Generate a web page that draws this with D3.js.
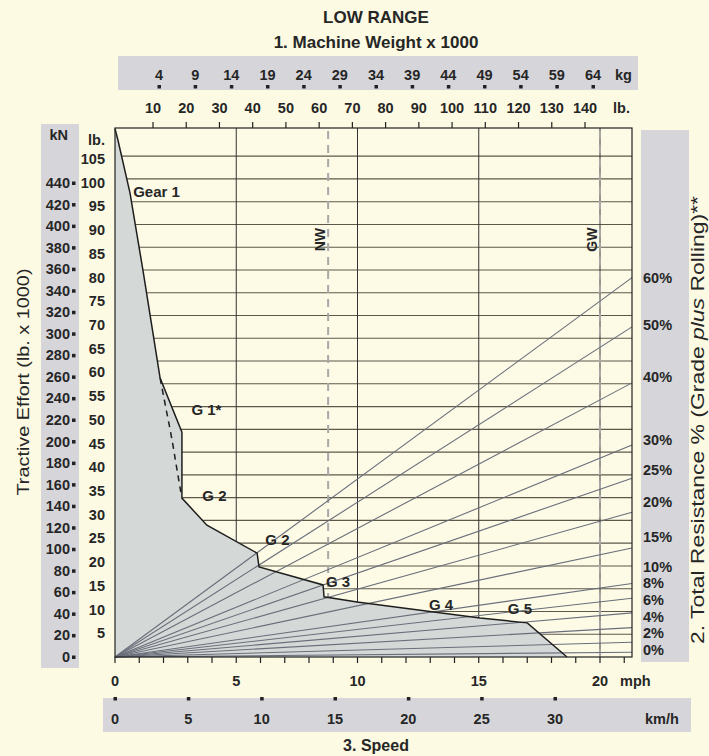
<!DOCTYPE html>
<html><head><meta charset="utf-8">
<script src="https://cdn.jsdelivr.net/npm/d3@7"></script>
<style>
body{margin:0;background:#fcfae2;}
svg{display:block}
text{font-family:"Liberation Sans Narrow","Arial Narrow","Liberation Sans",sans-serif;fill:#262626;}
</style></head><body>
<svg id="chart" width="709" height="756"></svg>
<script>
// ---- axis labels ----
const mphLabels = [0, 5, 10, 15, 20];
const mphTicks = [0,1,2,3,4,5,6,7,8,9,10,11,12,13,14,15,16,17,18,19,20,21];
const kmhLabels = [0, 5, 10, 15, 20, 25, 30];
const weightLb = [10,20,30,40,50,60,70,80,90,100,110,120,130,140];
const weightKg = [4,9,14,19,24,29,34,39,44,49,54,59,64];
const effortLb = [5,10,15,20,25,30,35,40,45,50,55,60,65,70,75,80,85,90,95,100,105];
const effortKn = [0,20,40,60,80,100,120,140,160,180,200,220,240,260,280,300,320,340,360,380,400,420,440];
const gridLines = [1,2,3,4,5,6,7,8,9,10,11,12,13,14,15,16,17,18,19,20,21,22];

// ---- total resistance lines: label, rimpull (lb x 1000) at right edge, label position ----
const resistLabels = ["60%","50%","40%","30%","25%","20%","15%","10%","8%","6%","4%","2%","0%"];
const resistEnd    = [80, 69.6, 57.8, 44.7, 37.7, 30.5, 23, 15.5, 12.4, 9.3, 6.2, 3.1, 1.0];
const resistLabelAt= [79.9, 70, 59, 45.8, 39.4, 32.7, 25.3, 19.0, 15.5, 12.0, 8.5, 5.0, 1.5];

// ---- rimpull envelope (mph, lb x 1000) ----
const rimSpeed  = [0, 0.12, 0.62, 1.15, 1.86, 2.76, 2.76, 3.79, 5.86, 5.94, 8.58, 8.62, 9.98, 15.05, 17.0, 18.64];
const rimPull   = [111.4, 109, 97.8, 81.6, 58.8, 47.4, 33.5, 27.8, 21.9, 19.0, 15.2, 12.7, 11.6, 8.2, 7.2, 0];
// alternative gear 1 curve (dashed)
const g1aSpeed  = [1.86, 2.06, 2.35, 2.56, 2.74];
const g1aPull   = [58.8, 53.5, 45.8, 39.4, 34.0];

// ---- gear labels ----
const gearNames = ["Gear 1", "G 1*", "G 2", "G 2", "G 3", "G 4", "G 5"];
const gearSpeed = [0.75, 3.15, 3.6, 6.2, 8.7, 12.95, 16.2];
const gearPull  = [96.9, 51.0, 32.8, 23.6, 14.8, 9.9, 9.1];

// ---- weight markers (lb x 1000) ----
const markerNames = ["NW", "GW"];
const markerWeight = [62.7, 144.5];

const svg = d3.select("#chart");

const x = d3.scaleLinear().domain([0, 20]).range([115, 600]);
const y = d3.scaleLinear().domain([0, 105]).range([657, 159]);
const xMax = x.invert(632), yMax = y.invert(128);
const wLb = d3.scaleLinear().domain([10, 140]).range([153, 585]);
const wKg = d3.scaleLinear().domain([4, 64]).range([159, 593]);
const kmh = d3.scaleLinear().domain([0, 30]).range([115, 555]);
const kN = d3.scaleLinear().domain([0, 440]).range([657, 183]);
const gridY = d3.scaleLinear().domain([0, 22]).range([y(0), y(105.6)]);

const band = "#d6d6da";
const font = 14.5;

// titles
svg.append("text").attr("x", 376).attr("y", 23).attr("text-anchor", "middle")
  .attr("font-size", 17).attr("font-weight", "bold").text("LOW RANGE");
svg.append("text").attr("x", 376).attr("y", 48).attr("text-anchor", "middle")
  .attr("font-size", 17).attr("font-weight", "bold").text("1. Machine Weight x 1000");

// bands
svg.append("rect").attr("x", 118).attr("y", 56).attr("width", 520).attr("height", 34).attr("fill", band);
svg.append("rect").attr("x", 41).attr("y", 124).attr("width", 38).attr("height", 544).attr("fill", band);
svg.append("rect").attr("x", 641).attr("y", 130).attr("width", 48).attr("height", 532).attr("fill", band);
svg.append("rect").attr("x", 103).attr("y", 698).attr("width", 588).attr("height", 34).attr("fill", band);

// plot background
svg.append("rect").attr("x", x(0)).attr("y", y(yMax)).attr("width", x(xMax) - x(0))
  .attr("height", y(0) - y(yMax)).attr("fill", "#fdfbe6");

// horizontal grid
svg.append("g").selectAll("line").data(gridLines).join("line")
  .attr("x1", x(0)).attr("x2", x(xMax)).attr("y1", d => gridY(d)).attr("y2", d => gridY(d))
  .attr("stroke", "#5e584a").attr("stroke-width", 1.1);

// vertical grid at 5, 10, 15, 20 mph
svg.append("g").selectAll("line").data([5, 10, 15, 20]).join("line")
  .attr("x1", d => x(d)).attr("x2", d => x(d)).attr("y1", y(0)).attr("y2", y(yMax))
  .attr("stroke", "#333").attr("stroke-width", 1);

// weight markers
svg.append("g").selectAll("line").data(markerWeight).join("line")
  .attr("x1", d => wLb(d)).attr("x2", d => wLb(d)).attr("y1", y(0)).attr("y2", y(yMax))
  .attr("stroke", "#a8a8a8").attr("stroke-width", 2).attr("stroke-dasharray", "8,6");
svg.append("g").selectAll("text").data(markerNames).join("text")
  .attr("transform", (d, i) => `translate(${wLb(markerWeight[i]) - 3},${y(88)}) rotate(-90)`)
  .attr("text-anchor", "middle").attr("font-size", 14).attr("font-weight", "bold").text(d => d);

// rimpull fill
const env = rimSpeed.map((s, i) => [s, rimPull[i]]);
const area = d3.area().x(d => x(d[0])).y0(y(0)).y1(d => y(d[1]));
svg.append("path").datum([[0, yMax], ...env]).attr("d", area).attr("fill", "#d4d8d6");

// resistance lines from origin to right edge
svg.append("g").selectAll("line").data(resistEnd).join("line")
  .attr("x1", x(0)).attr("y1", y(0)).attr("x2", x(xMax)).attr("y2", d => y(d))
  .attr("stroke", "#6a6e7a").attr("stroke-width", 1.1);

// envelope
const line = d3.line().x(d => x(d[0])).y(d => y(d[1]));
svg.append("path").datum(env).attr("d", line).attr("fill", "none")
  .attr("stroke", "#1e1e1e").attr("stroke-width", 1.5);
svg.append("path").datum(g1aSpeed.map((s, i) => [s, g1aPull[i]]))
  .attr("d", d3.line().curve(d3.curveMonotoneY).x(d => x(d[0])).y(d => y(d[1])))
  .attr("fill", "none").attr("stroke", "#1e1e1e").attr("stroke-width", 1.5).attr("stroke-dasharray", "6,5");

// gear labels
svg.append("g").selectAll("text").data(gearNames).join("text")
  .attr("x", (d, i) => x(gearSpeed[i])).attr("y", (d, i) => y(gearPull[i]))
  .attr("font-size", 15).attr("font-weight", "bold").text(d => d);

// frame
svg.append("rect").attr("x", x(0)).attr("y", y(yMax)).attr("width", x(xMax) - x(0))
  .attr("height", y(0) - y(yMax)).attr("fill", "none").attr("stroke", "#222").attr("stroke-width", 1.2);

// bottom mph axis
svg.append("g").selectAll("line").data(mphTicks).join("line")
  .attr("x1", d => x(d)).attr("x2", d => x(d)).attr("y1", y(0)).attr("y2", y(0) + 6)
  .attr("stroke", "#222").attr("stroke-width", 1.2);
svg.append("g").selectAll("text").data(mphLabels).join("text")
  .attr("x", d => x(d)).attr("y", 686).attr("text-anchor", "middle")
  .attr("font-size", font).attr("font-weight", "bold").text(d => d);
svg.append("text").attr("x", 620).attr("y", 686).attr("font-size", font).attr("font-weight", "bold").text("mph");

// km/h axis
svg.append("g").selectAll("rect").data(kmhLabels).join("rect")
  .attr("x", d => kmh(d) - 1.5).attr("y", 697).attr("width", 3.5).attr("height", 3.5).attr("fill", "#222");
svg.append("g").selectAll("text").data(kmhLabels).join("text")
  .attr("x", d => kmh(d)).attr("y", 724).attr("text-anchor", "middle")
  .attr("font-size", font).attr("font-weight", "bold").text(d => d);
svg.append("text").attr("x", 645).attr("y", 724).attr("font-size", font).attr("font-weight", "bold").text("km/h");
svg.append("text").attr("x", 376).attr("y", 751).attr("text-anchor", "middle")
  .attr("font-size", 16).attr("font-weight", "bold").text("3. Speed");

// top weight axes
svg.append("g").selectAll("line").data(weightLb).join("line")
  .attr("x1", d => wLb(d)).attr("x2", d => wLb(d)).attr("y1", y(yMax) - 6).attr("y2", y(yMax))
  .attr("stroke", "#222").attr("stroke-width", 1.2);
svg.append("g").selectAll("text").data(weightLb).join("text")
  .attr("x", d => wLb(d)).attr("y", 113).attr("text-anchor", "middle")
  .attr("font-size", font).attr("font-weight", "bold").text(d => d);
svg.append("text").attr("x", 613).attr("y", 113).attr("font-size", font).attr("font-weight", "bold").text("lb.");
svg.append("g").selectAll("text").data(weightKg).join("text")
  .attr("x", d => wKg(d)).attr("y", 80).attr("text-anchor", "middle")
  .attr("font-size", font).attr("font-weight", "bold").text(d => d);
svg.append("g").selectAll("rect").data(weightKg).join("rect")
  .attr("x", d => wKg(d) - 1.5).attr("y", 85).attr("width", 3.5).attr("height", 3.5).attr("fill", "#222");
svg.append("text").attr("x", 615).attr("y", 80).attr("font-size", font).attr("font-weight", "bold").text("kg");

// left effort axes
svg.append("g").selectAll("text").data(effortLb).join("text")
  .attr("x", 105).attr("y", d => y(d) + 5).attr("text-anchor", "end")
  .attr("font-size", font).attr("font-weight", "bold").text(d => d);
svg.append("text").attr("x", 105).attr("y", 145).attr("text-anchor", "end")
  .attr("font-size", font).attr("font-weight", "bold").text("lb.");
svg.append("g").selectAll("text").data(effortKn).join("text")
  .attr("x", 70).attr("y", d => kN(d) + 5).attr("text-anchor", "end")
  .attr("font-size", font).attr("font-weight", "bold").text(d => d);
svg.append("g").selectAll("rect").data(effortKn).join("rect")
  .attr("x", 72).attr("y", d => kN(d) - 1.5).attr("width", 3.5).attr("height", 3.5).attr("fill", "#222");
svg.append("text").attr("x", 68).attr("y", 140).attr("text-anchor", "end")
  .attr("font-size", font).attr("font-weight", "bold").text("kN");
svg.append("text").attr("transform", "translate(29,382) rotate(-90)").attr("text-anchor", "middle")
  .attr("font-size", 17).attr("textLength", 227).attr("lengthAdjust", "spacingAndGlyphs")
  .text("Tractive Effort (lb. x 1000)");

// right resistance labels
svg.append("g").selectAll("text").data(resistLabels).join("text")
  .attr("x", 643).attr("y", (d, i) => y(resistLabelAt[i]) + 5)
  .attr("font-size", font).attr("font-weight", "bold").text(d => d);
const rt = svg.append("text").attr("transform", "translate(704,420) rotate(-90)").attr("text-anchor", "middle")
  .attr("font-size", 17.5).attr("textLength", 448).attr("lengthAdjust", "spacingAndGlyphs");
rt.append("tspan").text("2. Total Resistance % (Grade ");
rt.append("tspan").attr("font-style", "italic").text("plus");
rt.append("tspan").text(" Rolling)**");
</script></body></html>
